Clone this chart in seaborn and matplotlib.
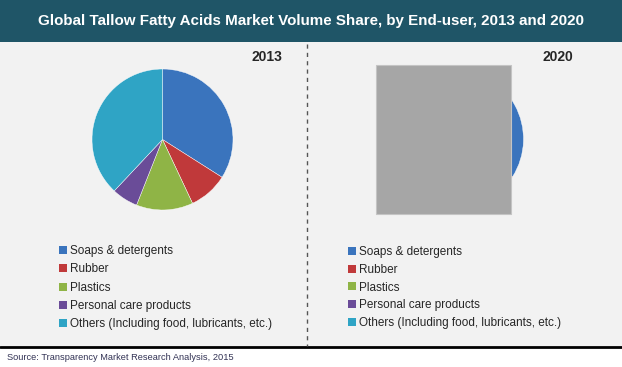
import numpy as np
import matplotlib.pyplot as plt
import seaborn as sns
from matplotlib.patches import Rectangle, Patch
from matplotlib.lines import Line2D

# Data
segments = ['Soaps & detergents', 'Rubber', 'Plastics', 'Personal care products',
            'Others (Including food, lubricants, etc.)']
share_2013 = [34, 9, 13, 6, 38]
share_2020 = [34, 9, 13, 6, 38]
years = ['2013', '2020']
title = 'Global Tallow Fatty Acids Market Volume Share, by End-user, 2013 and 2020'
source = 'Source: Transparency Market Research Analysis, 2015'

colors = sns.color_palette(['#3a74bd', '#c0393a', '#8fb446', '#6a4c98', '#2fa4c5'])

sns.set_theme(style='white')
plt.rcParams['font.family'] = ['Liberation Sans', 'DejaVu Sans']

W, H = 622, 367
fig = plt.figure(figsize=(W / 100, H / 100), dpi=100)
fig.patch.set_facecolor('white')


def fx(x):
    return x / W


def fy(y):
    return 1 - y / H


# background panels
fig.patches.append(Rectangle((0, fy(346)), 1, fy(42) - fy(346), transform=fig.transFigure,
                             facecolor='#f2f2f2', edgecolor='none', zorder=-2))
fig.patches.append(Rectangle((0, fy(42)), 1, 1 - fy(42), transform=fig.transFigure,
                             facecolor='#1f5567', edgecolor='none', zorder=-1))
fig.lines.append(Line2D([0, 1], [fy(347), fy(347)], transform=fig.transFigure,
                        color='black', lw=2))
fig.lines.append(Line2D([fx(307), fx(307)], [fy(44), fy(346)], transform=fig.transFigure,
                        color='#555555', lw=1, dashes=(3, 3)))

fig.text(0.5, fy(21), title, color='white', fontsize=10.9, fontweight='bold',
         ha='center', va='center')
fig.text(fx(7), fy(357), source, color='#333355', fontsize=6.7, ha='left', va='center')

centers = [(162.5, 139.5), (453, 139)]
radius = 70.5
legend_pos = [(59, 245), (348, 246)]
legend_spacing = [0.54, 0.49]

for year, vals, (cx, cy), (lx, ly), sp in zip(years, [share_2013, share_2020], centers,
                                              legend_pos, legend_spacing):
    ax = fig.add_axes([fx(cx - radius), fy(cy + radius), 2 * radius / W, 2 * radius / H])
    ax.pie(vals, colors=colors, startangle=90, counterclock=False,
           wedgeprops=dict(linewidth=0.3, edgecolor='white'))
    ax.set_xlim(-1, 1)
    ax.set_ylim(-1, 1)
    ax.axis('off')

    handles = [Patch(facecolor=c, edgecolor='none') for c in colors]
    fig.legend(handles, segments, loc='upper left', bbox_to_anchor=(fx(lx), fy(ly)),
               frameon=False, fontsize=8.5, handlelength=0.65, handleheight=0.65,
               handletextpad=0.3, labelspacing=sp, borderpad=0, borderaxespad=0)

fig.text(fx(267), fy(57), years[0], fontsize=10, fontweight='bold', ha='center', va='center')
fig.text(fx(558), fy(57), years[1], fontsize=10, fontweight='bold', ha='center', va='center')

# grey box over the 2020 pie
fig.patches.append(Rectangle((fx(376), fy(214)), fx(511) - fx(376), fy(65) - fy(214),
                             transform=fig.transFigure, facecolor='#a6a6a6',
                             edgecolor='#c4c4c4', lw=0.8, zorder=5))

fig.savefig('out.png', dpi=100)
